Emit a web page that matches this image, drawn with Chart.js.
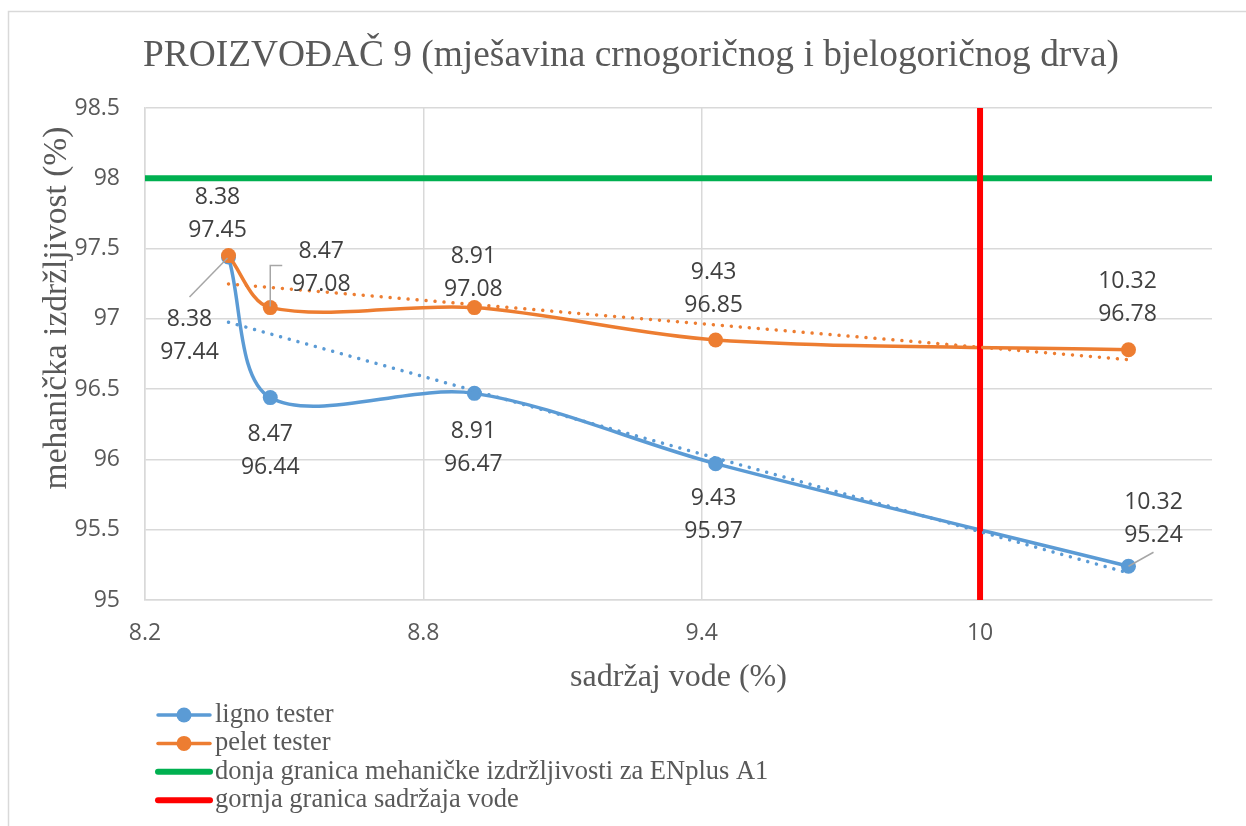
<!DOCTYPE html>
<html>
<head>
<meta charset="utf-8">
<title>PROIZVOĐAČ 9</title>
<script src="https://cdn.jsdelivr.net/npm/chart.js"></script>
<style>
  html, body { margin: 0; padding: 0; background: #fff; }
  canvas { display: block; }
</style>
</head>
<body>
<canvas id="chart" width="1246" height="826"></canvas>
<script>
const titleText = 'PROIZVOĐAČ 9 (mješavina crnogoričnog i bjelogoričnog drva)';
const xTitle = 'sadržaj vode (%)';
const yTitle = 'mehanička izdržljivost (%)';

// measured values
const lignoX = [8.38, 8.47, 8.91, 9.43, 10.32];
const lignoY = [97.44, 96.44, 96.47, 95.97, 95.24];
const peletX = [8.38, 8.47, 8.91, 9.43, 10.32];
const peletY = [97.45, 97.08, 97.08, 96.85, 96.78];

// limits
const minStrength = 98;  // donja granica mehaničke izdržljivosti za ENplus A1
const maxMoisture = 10;  // gornja granica sadržaja vode

const xRange = [8.2, 10.5];
const yRange = [95, 98.5];
const xTicks = [8.2, 8.8, 9.4, 10];
const yTicks = [95, 95.5, 96, 96.5, 97, 97.5, 98, 98.5];

// where each data label sits relative to its point (px)
const lignoLabelPos = [
  { dx: -39, dy: 62, leader: [[-39, 40], [-1, 1]] },
  { dx: 0, dy: 37 },
  { dx: -1, dy: 38 },
  { dx: -2, dy: 35 },
  { dx: 25, dy: -64, leader: [[25, -14], [0, 0]] }
];
const peletLabelPos = [
  { dx: -11, dy: -58 },
  { dx: 51, dy: -56, leader: [[12, -42], [0, -42], [0, -1]] },
  { dx: -1, dy: -51 },
  { dx: -2, dy: -67 },
  { dx: -1, dy: -68 }
];

const BLUE = '#5B9BD5', ORANGE = '#ED7D31', GREEN = '#00B050', RED = '#FF0000';
const TXT = '#595959';

function pts(xs, ys) { return xs.map((x, i) => ({ x: x, y: ys[i] })); }

// excel style linear trendline
function linearFit(xs, ys) {
  const n = xs.length;
  const mx = xs.reduce((a, b) => a + b, 0) / n;
  const my = ys.reduce((a, b) => a + b, 0) / n;
  let sxy = 0, sxx = 0;
  for (let i = 0; i < n; i++) {
    sxy += (xs[i] - mx) * (ys[i] - my);
    sxx += (xs[i] - mx) * (xs[i] - mx);
  }
  const k = sxy / sxx, b = my - k * mx;
  const x0 = Math.min(...xs), x1 = Math.max(...xs);
  return [{ x: x0, y: b + k * x0 }, { x: x1, y: b + k * x1 }];
}

const labelPositions = { 0: lignoLabelPos, 1: peletLabelPos };

const frame = {
  id: 'frame',
  beforeDraw(chart) {
    const ctx = chart.ctx;
    ctx.save();
    ctx.fillStyle = '#fff';
    ctx.fillRect(0, 0, chart.width, chart.height);
    ctx.strokeStyle = '#d9d9d9';
    ctx.lineWidth = 1.5;
    ctx.strokeRect(8.5, 11.5, chart.width + 20, chart.height + 20);
    ctx.restore();
  },
  afterDraw(chart) {
    // title and y title placed like the excel original (not centred on the plot)
    const ctx = chart.ctx;
    ctx.save();
    ctx.fillStyle = TXT;
    ctx.textAlign = 'center';
    ctx.textBaseline = 'alphabetic';
    ctx.font = '37.4px "Liberation Serif"';
    ctx.fillText(titleText, 631, 66);
    ctx.translate(57, 308);
    ctx.rotate(-Math.PI / 2);
    ctx.textBaseline = 'middle';
    ctx.font = '33.5px "Liberation Serif"';
    ctx.fillText(yTitle, 0, 0);
    ctx.restore();
  }
};

const dataLabels = {
  id: 'dataLabels',
  afterDatasetsDraw(chart) {
    const ctx = chart.ctx;
    ctx.save();
    ctx.font = '23px "Open Sans"';
    ctx.fillStyle = '#404040';
    ctx.textAlign = 'center';
    ctx.textBaseline = 'middle';
    Object.keys(labelPositions).forEach(di => {
      const ds = chart.data.datasets[di];
      const meta = chart.getDatasetMeta(di);
      labelPositions[di].forEach((p, i) => {
        const el = meta.data[i];
        const v = ds.data[i];
        if (p.leader) {
          ctx.strokeStyle = '#a6a6a6';
          ctx.lineWidth = 1.5;
          ctx.beginPath();
          p.leader.forEach((q, j) => {
            if (j === 0) ctx.moveTo(el.x + q[0], el.y + q[1]);
            else ctx.lineTo(el.x + q[0], el.y + q[1]);
          });
          ctx.stroke();
        }
        ctx.fillText(v.x.toFixed(2), el.x + p.dx, el.y + p.dy);
        ctx.fillText(v.y.toFixed(2), el.x + p.dx, el.y + p.dy + 33);
      });
    });
    ctx.restore();
  }
};

const sideLegend = {
  id: 'sideLegend',
  afterDraw(chart) {
    const ctx = chart.ctx;
    const x0 = 158, x1 = 210, top = 715, step = 28.4;
    ctx.save();
    ctx.font = '26.5px "Liberation Serif"';
    ctx.textBaseline = 'middle';
    ctx.textAlign = 'left';
    let row = 0;
    chart.data.datasets.forEach(ds => {
      if (ds.inLegend === false) return;
      const y = top + row * step;
      ctx.strokeStyle = ds.borderColor;
      ctx.lineWidth = ds.pointRadius > 0 ? 3.5 : 6;
      ctx.lineCap = 'round';
      ctx.beginPath();
      ctx.moveTo(x0, y);
      ctx.lineTo(x1, y);
      ctx.stroke();
      if (ds.pointRadius > 0) {
        ctx.fillStyle = ds.borderColor;
        ctx.beginPath();
        ctx.arc((x0 + x1) / 2, y, 7.5, 0, Math.PI * 2);
        ctx.fill();
      }
      ctx.fillStyle = TXT;
      ctx.fillText(ds.label, 215, y);
      row++;
    });
    ctx.restore();
  }
};

const ctx = document.getElementById('chart').getContext('2d');
new Chart(ctx, {
  type: 'scatter',
  data: {
    datasets: [
      { label: 'ligno tester', data: pts(lignoX, lignoY), showLine: true, tension: 0.32,
        borderColor: BLUE, backgroundColor: BLUE, borderWidth: 3.5,
        pointRadius: 7.5, pointHoverRadius: 7.5, pointBorderWidth: 0, order: 4 },
      { label: 'pelet tester', data: pts(peletX, peletY), showLine: true, tension: 0.32,
        borderColor: ORANGE, backgroundColor: ORANGE, borderWidth: 3.5,
        pointRadius: 7.5, pointHoverRadius: 7.5, pointBorderWidth: 0, order: 3 },
      { label: 'donja granica mehaničke izdržljivosti za ENplus A1',
        data: [{ x: xRange[0], y: minStrength }, { x: xRange[1], y: minStrength }],
        showLine: true, borderColor: GREEN, borderWidth: 6, pointRadius: 0, order: 2 },
      { label: 'gornja granica sadržaja vode',
        data: [{ x: maxMoisture, y: yRange[0] }, { x: maxMoisture, y: yRange[1] }],
        showLine: true, borderColor: RED, borderWidth: 6, pointRadius: 0, order: 1 },
      { label: 'trend ligno', inLegend: false, data: linearFit(lignoX, lignoY), showLine: true,
        borderColor: BLUE, borderWidth: 3.5, borderDash: [0.01, 9], borderCapStyle: 'round',
        pointRadius: 0, order: 0 },
      { label: 'trend pelet', inLegend: false, data: linearFit(peletX, peletY), showLine: true,
        borderColor: ORANGE, borderWidth: 3.5, borderDash: [0.01, 9], borderCapStyle: 'round',
        pointRadius: 0, order: 0 }
    ]
  },
  options: {
    responsive: false,
    animation: false,
    devicePixelRatio: 1,
    events: [],
    layout: { padding: { top: 108, left: 8, right: 34, bottom: 126 } },
    plugins: {
      legend: { display: false },
      tooltip: { enabled: false },
      title: { display: false }
    },
    scales: {
      x: {
        type: 'linear', min: xRange[0], max: xRange[1],
        afterBuildTicks: s => { s.ticks = xTicks.map(v => ({ value: v })); },
        afterFit: s => { s.height = 100; },
        grid: { color: '#d9d9d9', lineWidth: 1.5, drawTicks: false },
        border: { color: '#d9d9d9', width: 1.5 },
        ticks: { color: TXT, padding: 20, font: { family: 'Open Sans', size: 23 },
                 callback: v => String(v), maxRotation: 0 },
        title: { display: true, text: xTitle, color: TXT, padding: { top: 0, bottom: 3 },
                 font: { family: 'Liberation Serif', size: 32 } }
      },
      y: {
        type: 'linear', min: yRange[0], max: yRange[1],
        afterBuildTicks: s => { s.ticks = yTicks.map(v => ({ value: v })); },
        afterFit: s => { s.width = 137; },
        grid: { color: '#d9d9d9', lineWidth: 1.5, drawTicks: false },
        border: { color: '#d9d9d9', width: 1.5 },
        ticks: { color: TXT, padding: 25, font: { family: 'Open Sans', size: 23 },
                 callback: v => String(v) },
        title: { display: false }
      }
    }
  },
  plugins: [frame, dataLabels, sideLegend]
});
</script>
</body>
</html>
